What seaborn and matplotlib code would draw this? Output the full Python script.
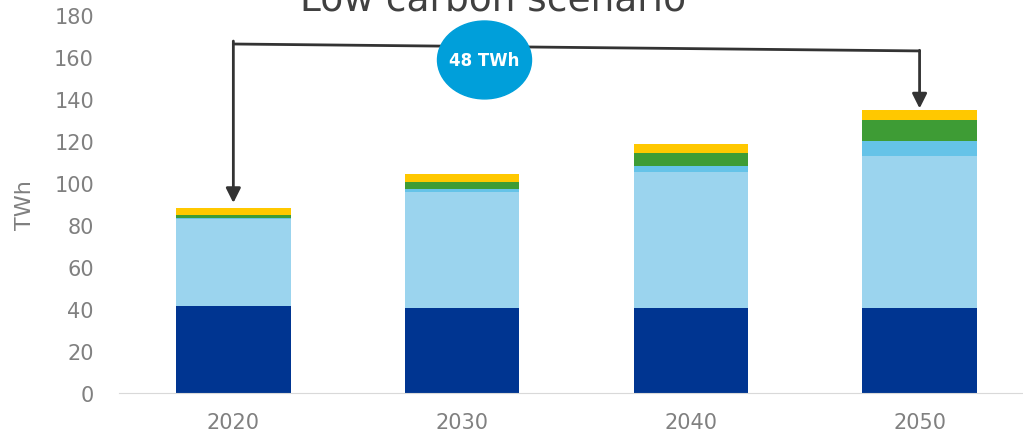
import numpy as np
import pandas as pd
import matplotlib
matplotlib.use("Agg")
import matplotlib.pyplot as plt
from matplotlib.patches import Ellipse
import seaborn as sns

# values (TWh)
years = ["2020", "2030", "2040", "2050"]
dark_blue = [41.5, 40.5, 40.5, 40.5]
light_blue = [41.5, 55.2, 64.7, 72.4]
mid_blue = [0.4, 1.4, 2.9, 7.1]
green = [1.5, 3.4, 6.2, 10.0]
yellow = [3.2, 3.8, 4.3, 4.8]
delta_label = "48 TWh"

layers = [dark_blue, light_blue, mid_blue, green, yellow]
colors = ["#003591", "#9BD4EE", "#65C3E8", "#3E9C35", "#FFC800"]

sns.set_style("white")
plt.rcParams["font.family"] = ["DejaVu Sans"]

fig = plt.figure(figsize=(10.23, 4.39), dpi=100)
ax = fig.add_axes([0.1163, 0.1025, 0.8944, 0.861])

cum = np.cumsum(np.array(layers), axis=0)
# draw from the top layer down so each cumulative bar sits over the previous
for i in range(len(layers) - 1, -1, -1):
    df = pd.DataFrame({"year": years, "twh": cum[i]})
    sns.barplot(data=df, x="year", y="twh", color=colors[i], width=0.5,
                saturation=1, ax=ax, errorbar=None, linewidth=0)

ax.set_xlim(-0.5, 3.5)
ax.set_ylim(0, 180)
ax.set_yticks(np.arange(0, 181, 20))
ax.set_xlabel("")
ax.set_ylabel("TWh", fontsize=16, color="#808080", labelpad=14)
ax.tick_params(axis="y", length=0, labelsize=15, labelcolor="#808080", pad=18)
ax.tick_params(axis="x", which="major", length=0, labelsize=15,
               labelcolor="#808080", pad=14)
ax.set_xticks([-0.5, 0.5, 1.5, 2.5, 3.5], minor=True)
ax.tick_params(axis="x", which="minor", length=9, color="#D9D9D9", width=1)
for s in ["left", "right", "top"]:
    ax.spines[s].set_visible(False)
ax.spines["bottom"].set_color("#D9D9D9")

# arrows showing the increase
line_kw = dict(color="#333333", lw=2)
ax.plot([0, 3], [166.2, 162.9], **line_kw)
ax.annotate("", xy=(0, 90.5), xytext=(0, 167.6),
            arrowprops=dict(arrowstyle="-|>", color="#333333", lw=2,
                            mutation_scale=22, shrinkA=0, shrinkB=0))
ax.annotate("", xy=(3, 135.5), xytext=(3, 163.2),
            arrowprops=dict(arrowstyle="-|>", color="#333333", lw=2,
                            mutation_scale=22, shrinkA=0, shrinkB=0))

ax.add_patch(Ellipse((1.098, 158.6), 0.411, 37.1, color="#009FDA", zorder=5))
ax.text(1.098, 158.6, delta_label, color="white", fontsize=12,
        fontweight="bold", ha="center", va="center", zorder=6)

fig.text(0.482, 0.977, "Low carbon scenario", fontsize=27, color="#404040",
         ha="center", va="baseline")

fig.savefig("out.png", dpi=100)
